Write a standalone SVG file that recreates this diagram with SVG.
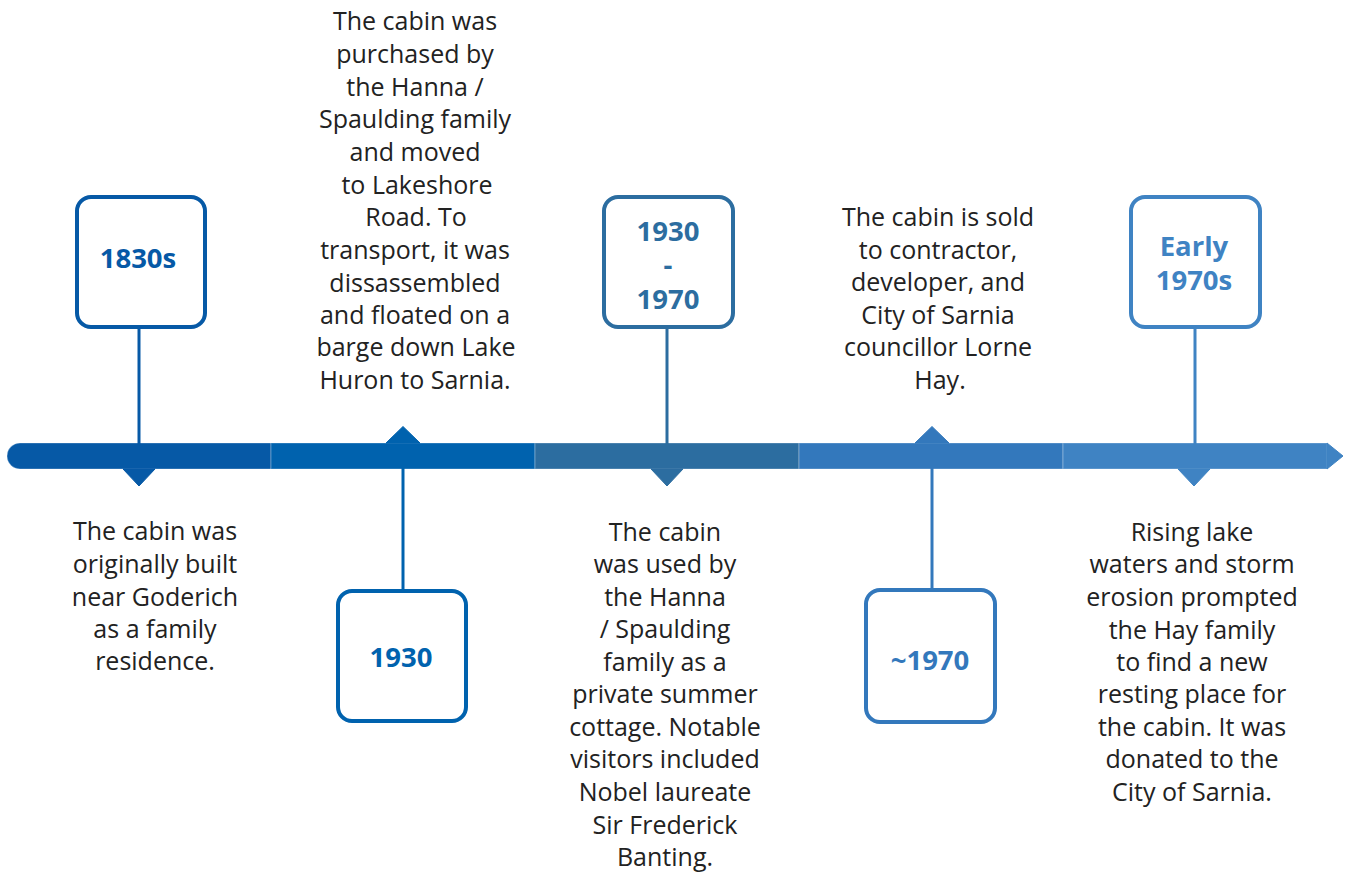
<svg xmlns="http://www.w3.org/2000/svg" width="1348" height="874" viewBox="0 0 1348 874">
<style>
.t{font-family:"Open Sans","Noto Sans",sans-serif;font-size:25px;fill:#222;text-anchor:middle}
.y{font-family:"Open Sans","Noto Sans",sans-serif;font-size:27.5px;font-weight:bold;text-anchor:middle}
.box{fill:#fff;stroke-width:4}
.c1{fill:#0659A6;stroke:#0659A6}.c2{fill:#0062AE;stroke:#0062AE}.c3{fill:#2C6DA0;stroke:#2C6DA0}.c4{fill:#3378BC;stroke:#3378BC}.c5{fill:#3F83C3;stroke:#3F83C3}
.seg{stroke:#fff;stroke-opacity:0.3;stroke-width:1}
.ln{stroke-width:3;fill:none}
</style>
<g id="timeline-bar">
<path class="seg c1" d="M20,443 H271 V469 H20 A13,13 0 0 1 20,443 Z"/>
<rect class="seg c2" x="271" y="443" width="264" height="26"/>
<rect class="seg c3" x="535" y="443" width="264" height="26"/>
<rect class="seg c4" x="799" y="443" width="264" height="26"/>
<rect class="seg c5" x="1063" y="443" width="264" height="26"/>
<polygon class="c5" points="1327,443 1343,456 1327,469" stroke="none"/>
<polygon class="c1" stroke="none" points="123,469 139,486 155,469"/>
<polygon class="c2" stroke="none" points="386,443 403,426.5 420,443"/>
<polygon class="c3" stroke="none" points="651,469 667,486 683,469"/>
<polygon class="c4" stroke="none" points="915,443 932,426.5 949,443"/>
<polygon class="c5" stroke="none" points="1178,469 1194,486 1210,469"/>
</g>
<g id="connectors">
<line class="ln c1" x1="139" y1="328" x2="139" y2="444"/>
<line class="ln c2" x1="403" y1="468" x2="403" y2="589"/>
<line class="ln c3" x1="667" y1="329" x2="667" y2="444"/>
<line class="ln c4" x1="932" y1="468" x2="932" y2="588"/>
<line class="ln c5" x1="1195" y1="329" x2="1195" y2="444"/>
</g>
<g id="node-1830s">
<rect class="box c1" style="fill:#fff" x="77" y="197" width="128" height="130" rx="14"/>
<text class="y" style="fill:#0659A6" x="138" y="268">1830s</text>
<text class="t"><tspan x="155" y="540">The cabin was</tspan><tspan x="155" y="573">originally built</tspan><tspan x="155" y="606">near Goderich</tspan><tspan x="155" y="638">as a family</tspan><tspan x="155" y="670">residence.</tspan></text>
</g>
<g id="node-1930">
<rect class="box c2" style="fill:#fff" x="338" y="591" width="128" height="130" rx="14"/>
<text class="y" style="fill:#0062AE" x="401" y="667">1930</text>
<text class="t"><tspan x="415" y="30">The cabin was</tspan><tspan x="415" y="63">purchased by</tspan><tspan x="415" y="96">the Hanna /</tspan><tspan x="415" y="128">Spaulding family</tspan><tspan x="415" y="161">and moved</tspan><tspan x="417" y="194">to Lakeshore</tspan><tspan x="416" y="226">Road. To</tspan><tspan x="415" y="259">transport, it was</tspan><tspan x="415" y="292">dissassembled</tspan><tspan x="415" y="324">and floated on a</tspan><tspan x="416" y="356">barge down Lake</tspan><tspan x="415" y="389">Huron to Sarnia.</tspan></text>
</g>
<g id="node-1930-1970">
<rect class="box c3" style="fill:#fff" x="604" y="197" width="129" height="130" rx="14"/>
<text class="y" style="fill:#2C6DA0"><tspan x="668" y="241">1930</tspan><tspan x="668" y="275">-</tspan><tspan x="668" y="309">1970</tspan></text>
<text class="t"><tspan x="665" y="541">The cabin</tspan><tspan x="665" y="573">was used by</tspan><tspan x="665" y="606">the Hanna</tspan><tspan x="665" y="638">/ Spaulding</tspan><tspan x="665" y="671">family as a</tspan><tspan x="665" y="703">private summer</tspan><tspan x="665" y="736">cottage. Notable</tspan><tspan x="665" y="768">visitors included</tspan><tspan x="665" y="801">Nobel laureate</tspan><tspan x="665" y="834">Sir Frederick</tspan><tspan x="665" y="866">Banting.</tspan></text>
</g>
<g id="node-1970">
<rect class="box c4" style="fill:#fff" x="866" y="590" width="129" height="132" rx="14"/>
<text class="y" style="fill:#3378BC" x="930" y="670">~1970</text>
<text class="t"><tspan x="938" y="226">The cabin is sold</tspan><tspan x="938" y="259">to contractor,</tspan><tspan x="938" y="291">developer, and</tspan><tspan x="938" y="324">City of Sarnia</tspan><tspan x="938" y="356">councillor Lorne</tspan><tspan x="940" y="389">Hay.</tspan></text>
</g>
<g id="node-early-1970s">
<rect class="box c5" style="fill:#fff" x="1131" y="197" width="129" height="130" rx="14"/>
<text class="y" style="fill:#3F83C3"><tspan x="1194" y="256">Early</tspan><tspan x="1194" y="290">1970s</tspan></text>
<text class="t"><tspan x="1192" y="541">Rising lake</tspan><tspan x="1192" y="573">waters and storm</tspan><tspan x="1192" y="606">erosion prompted</tspan><tspan x="1192" y="639">the Hay family</tspan><tspan x="1192" y="671">to find a new</tspan><tspan x="1192" y="703">resting place for</tspan><tspan x="1192" y="736">the cabin. It was</tspan><tspan x="1192" y="768">donated to the</tspan><tspan x="1192" y="801">City of Sarnia.</tspan></text>
</g>
</svg>
